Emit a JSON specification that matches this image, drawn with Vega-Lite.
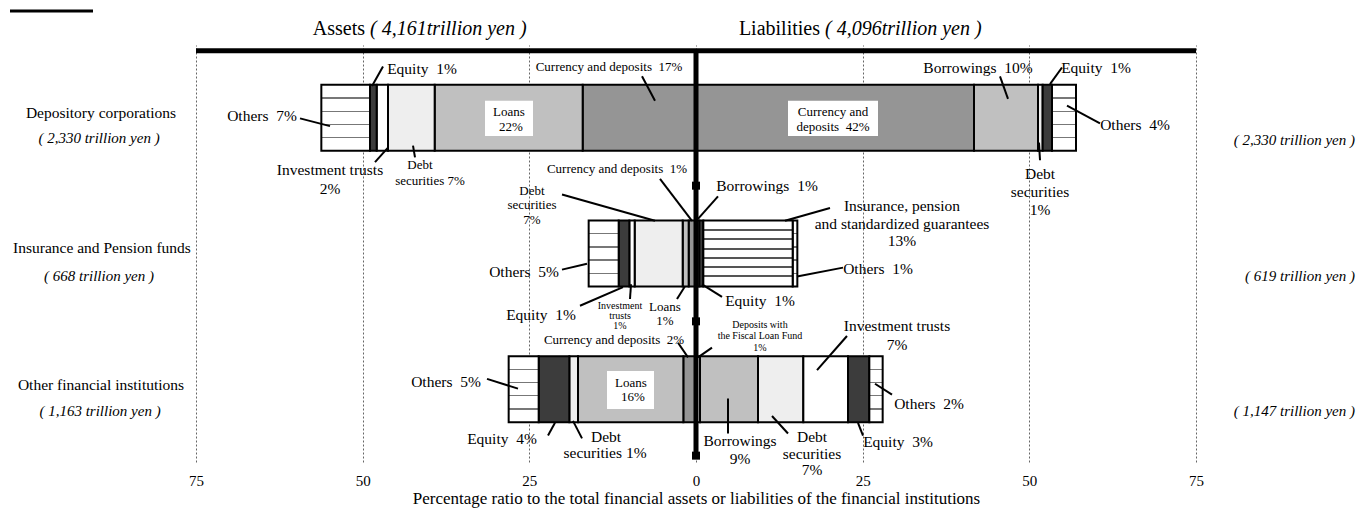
{
  "$schema": "https://vega.github.io/schema/vega-lite/v6.json",
  "width": 1000,
  "height": 417,
  "autosize": {"type": "none"},
  "padding": {"left": 196, "top": 45, "right": 162, "bottom": 48},
  "config": {"view": {"stroke": null}, "font": "Liberation Serif, Times New Roman, serif"},
  "datasets": {
    "bars": [
      {"y": 1, "item": "Currency and deposits", "pat": "cd", "ord": 1, "value": -17.0},
      {"y": 1, "item": "Loans", "pat": "loan", "ord": 2, "value": -22.2},
      {"y": 1, "item": "Debt securities", "pat": "debt", "ord": 3, "value": -7.0},
      {"y": 1, "item": "Investment trusts", "pat": "inv", "ord": 4, "value": -1.7},
      {"y": 1, "item": "Equity", "pat": "eq", "ord": 5, "value": -1.0},
      {"y": 1, "item": "Others", "pat": "oth", "ord": 6, "value": -7.3},
      {"y": 1, "item": "Currency and deposits", "pat": "cd", "ord": 1, "value": 41.7},
      {"y": 1, "item": "Borrowings", "pat": "loan", "ord": 2, "value": 9.6},
      {"y": 1, "item": "Debt securities", "pat": "debt", "ord": 3, "value": 0.7},
      {"y": 1, "item": "Equity", "pat": "eq", "ord": 4, "value": 1.4},
      {"y": 1, "item": "Others", "pat": "oth", "ord": 5, "value": 3.6},
      {"y": 2, "item": "Currency and deposits", "pat": "cd", "ord": 1, "value": -1.1},
      {"y": 2, "item": "Loans", "pat": "loan", "ord": 2, "value": -0.9},
      {"y": 2, "item": "Debt securities", "pat": "debt", "ord": 3, "value": -7.2},
      {"y": 2, "item": "Investment trusts", "pat": "inv", "ord": 4, "value": -0.8},
      {"y": 2, "item": "Equity", "pat": "eq", "ord": 5, "value": -1.6},
      {"y": 2, "item": "Others", "pat": "oth", "ord": 6, "value": -4.5},
      {"y": 2, "item": "Borrowings", "pat": "loan", "ord": 1, "value": 0.5},
      {"y": 2, "item": "Equity", "pat": "eq", "ord": 2, "value": 0.6},
      {"y": 2, "item": "Insurance, pension and standardized guarantees", "pat": "ins", "ord": 3, "value": 13.4},
      {"y": 2, "item": "Others", "pat": "oth", "ord": 4, "value": 0.7},
      {"y": 3, "item": "Currency and deposits", "pat": "cd", "ord": 1, "value": -1.9},
      {"y": 3, "item": "Loans", "pat": "loan", "ord": 2, "value": -15.8},
      {"y": 3, "item": "Debt securities", "pat": "debt", "ord": 3, "value": -1.3},
      {"y": 3, "item": "Equity", "pat": "eq", "ord": 4, "value": -4.6},
      {"y": 3, "item": "Others", "pat": "oth", "ord": 5, "value": -4.5},
      {"y": 3, "item": "Deposits with the Fiscal Loan Fund", "pat": "flf", "ord": 1, "value": 0.6},
      {"y": 3, "item": "Borrowings", "pat": "loan", "ord": 2, "value": 8.7},
      {"y": 3, "item": "Debt securities", "pat": "debt", "ord": 3, "value": 6.8},
      {"y": 3, "item": "Investment trusts", "pat": "inv", "ord": 4, "value": 6.7},
      {"y": 3, "item": "Equity", "pat": "eq", "ord": 5, "value": 3.2},
      {"y": 3, "item": "Others", "pat": "oth", "ord": 6, "value": 2.0}
    ],
    "boxes": [
      {"x": -31.65, "x2": -24.45, "y": 0.874, "y2": 1.133},
      {"x": 13.8, "x2": 27.3, "y": 0.874, "y2": 1.133},
      {"x": -13.35, "x2": -6.3, "y": 2.867, "y2": 3.147}
    ],
    "leaders": [
      {"x": -48.6, "y": 0.766, "x2": -46.95, "y2": 0.622},
      {"x": -59.4, "y": 1.004, "x2": -54.9, "y2": 1.061},
      {"x": -48.15, "y": 1.327, "x2": -46.2, "y2": 1.219},
      {"x": -42.15, "y": 1.291, "x2": -42.45, "y2": 1.205},
      {"x": -8.1, "y": 0.694, "x2": -6.15, "y2": 0.874},
      {"x": 45.6, "y": 0.694, "x2": 46.8, "y2": 0.86},
      {"x": 54.9, "y": 0.629, "x2": 53.1, "y2": 0.752},
      {"x": 60.6, "y": 1.04, "x2": 55.65, "y2": 0.91},
      {"x": 51.45, "y": 1.183, "x2": 51.6, "y2": 1.313},
      {"x": -5.4, "y": 1.45, "x2": -0.6, "y2": 1.759},
      {"x": -20.1, "y": 1.565, "x2": -6.15, "y2": 1.759},
      {"x": 3.3, "y": 1.579, "x2": 0.3, "y2": 1.745},
      {"x": 20.1, "y": 1.665, "x2": 13.35, "y2": 1.759},
      {"x": 22.05, "y": 2.104, "x2": 15.15, "y2": 2.169},
      {"x": 3.9, "y": 2.32, "x2": 0.9, "y2": 2.227},
      {"x": -20.1, "y": 2.119, "x2": -16.35, "y2": 2.076},
      {"x": -17.4, "y": 2.385, "x2": -10.95, "y2": 2.248},
      {"x": -9.9, "y": 2.335, "x2": -9.75, "y2": 2.227},
      {"x": -2.85, "y": 2.335, "x2": -1.65, "y2": 2.241},
      {"x": -2.7, "y": 2.658, "x2": -1.2, "y2": 2.766},
      {"x": 2.4, "y": 2.694, "x2": 0.3, "y2": 2.766},
      {"x": 22.65, "y": 2.608, "x2": 18.15, "y2": 2.86},
      {"x": 29.4, "y": 3.04, "x2": 26.85, "y2": 2.96},
      {"x": 25.05, "y": 3.342, "x2": 24.3, "y2": 3.248},
      {"x": 13.8, "y": 3.327, "x2": 11.4, "y2": 3.198},
      {"x": 4.8, "y": 3.068, "x2": 4.8, "y2": 3.327},
      {"x": -31.35, "y": 2.924, "x2": -26.7, "y2": 2.996},
      {"x": -22.2, "y": 3.342, "x2": -21.15, "y2": 3.248},
      {"x": -17.1, "y": 3.363, "x2": -18.45, "y2": 3.234}
    ],
    "hlines": [{"x": -75, "x2": 75, "y": 0.505}],
    "underline": [{"x": -102.9, "x2": -90.45, "y": 0.212}],
    "vline": [{"x": 0, "y": 0.5, "y2": 3.5}],
    "squares": [{"x": 0, "y": 1.5}, {"x": 0, "y": 2.5}, {"x": 0, "y": 3.49}],
    "lab15": [
      {"t": "Equity\u00a0 1%", "x": -41.1, "y": 0.637},
      {"t": "Others\u00a0 7%", "x": -65.1, "y": 0.989},
      {"t": "Investment trusts", "x": -54.9, "y": 1.385},
      {"t": "2%", "x": -54.9, "y": 1.522},
      {"t": "Borrowings\u00a0 10%", "x": 42.3, "y": 0.629},
      {"t": "Equity\u00a0 1%", "x": 60.0, "y": 0.629},
      {"t": "Others\u00a0 4%", "x": 65.85, "y": 1.054},
      {"t": "Debt", "x": 51.6, "y": 1.414},
      {"t": "securities", "x": 51.6, "y": 1.55},
      {"t": "1%", "x": 51.6, "y": 1.68},
      {"t": "Borrowings\u00a0 1%", "x": 10.65, "y": 1.5},
      {"t": "Insurance, pension", "x": 30.9, "y": 1.651},
      {"t": "and standardized guarantees", "x": 30.9, "y": 1.781},
      {"t": "13%", "x": 30.9, "y": 1.91},
      {"t": "Others\u00a0 1%", "x": 27.3, "y": 2.112},
      {"t": "Equity\u00a0 1%", "x": 9.6, "y": 2.349},
      {"t": "Others\u00a0 5%", "x": -25.8, "y": 2.133},
      {"t": "Equity\u00a0 1%", "x": -23.25, "y": 2.457},
      {"t": "Investment trusts", "x": 30.15, "y": 2.536},
      {"t": "7%", "x": 30.15, "y": 2.673},
      {"t": "Others\u00a0 2%", "x": 34.95, "y": 3.112},
      {"t": "Equity\u00a0 3%", "x": 30.3, "y": 3.392},
      {"t": "Debt", "x": 17.4, "y": 3.356},
      {"t": "securities", "x": 17.4, "y": 3.478},
      {"t": "7%", "x": 17.4, "y": 3.594},
      {"t": "Borrowings", "x": 6.6, "y": 3.385},
      {"t": "9%", "x": 6.6, "y": 3.514},
      {"t": "Others\u00a0 5%", "x": -37.5, "y": 2.946},
      {"t": "Equity\u00a0 4%", "x": -29.1, "y": 3.371},
      {"t": "Debt", "x": -13.5, "y": 3.349},
      {"t": "securities 1%", "x": -13.65, "y": 3.471}
    ],
    "lab13": [
      {"t": "Currency and deposits\u00a0 17%", "x": -13.05, "y": 0.622},
      {"t": "Loans", "x": -28.05, "y": 0.96},
      {"t": "22%", "x": -27.75, "y": 1.068},
      {"t": "Currency and", "x": 20.55, "y": 0.96},
      {"t": "deposits\u00a0 42%", "x": 20.55, "y": 1.068},
      {"t": "Debt", "x": -41.4, "y": 1.349},
      {"t": "securities 7%", "x": -39.9, "y": 1.464},
      {"t": "Currency and deposits\u00a0 1%", "x": -11.85, "y": 1.378},
      {"t": "Debt", "x": -24.6, "y": 1.536},
      {"t": "securities", "x": -24.6, "y": 1.644},
      {"t": "7%", "x": -24.6, "y": 1.752},
      {"t": "Loans", "x": -4.65, "y": 2.392},
      {"t": "1%", "x": -4.65, "y": 2.5},
      {"t": "Currency and deposits\u00a0 2%", "x": -12.3, "y": 2.637},
      {"t": "Loans", "x": -9.75, "y": 2.953},
      {"t": "16%", "x": -9.45, "y": 3.061}
    ],
    "lab10": [
      {"t": "Investment", "x": -11.4, "y": 2.385},
      {"t": "trusts", "x": -11.4, "y": 2.464},
      {"t": "1%", "x": -11.4, "y": 2.536},
      {"t": "Deposits with", "x": 9.6, "y": 2.529},
      {"t": "the Fiscal Loan Fund", "x": 9.6, "y": 2.608},
      {"t": "1%", "x": 9.6, "y": 2.694}
    ],
    "rowname": [
      {"t": "Depository corporations", "x": -89.25, "y": 0.968},
      {"t": "Insurance and Pension funds", "x": -89.1, "y": 1.96},
      {"t": "Other financial institutions", "x": -89.25, "y": 2.968}
    ],
    "rowsub": [
      {"t": "( 2,330 trillion yen )", "x": -89.55, "y": 1.147},
      {"t": "( 668 trillion yen )", "x": -89.55, "y": 2.169},
      {"t": "( 1,163 trillion yen )", "x": -89.4, "y": 3.162}
    ],
    "rowsubR": [
      {"t": "( 2,330 trillion yen )", "x": 98.85, "y": 1.162},
      {"t": "( 619 trillion yen )", "x": 98.85, "y": 2.169},
      {"t": "( 1,147 trillion yen )", "x": 98.85, "y": 3.162}
    ],
    "head": [
      {"t": "Assets", "x": -49.65, "y": 0.342},
      {"t": "Liabilities", "x": 18.6, "y": 0.342}
    ],
    "headIt": [
      {"t": "( 4,161trillion yen )", "x": -48.9, "y": 0.342},
      {"t": "( 4,096trillion yen )", "x": 19.35, "y": 0.342}
    ]
  },
  "encoding": {
    "x": {
      "field": "x", "type": "quantitative",
      "scale": {"domain": [-75, 75], "nice": false, "zero": false},
      "axis": {
        "values": [-75, -50, -25, 0, 25, 50, 75],
        "labelExpr": "'' + abs(datum.value)",
        "labelFlush": false, "labelOverlap": false,
        "grid": true, "gridDash": [2, 2], "gridColor": "#666666", "gridWidth": 1,
        "domain": false, "ticks": false,
        "labelFont": "Liberation Serif, Times New Roman, serif", "labelFontSize": 15, "labelColor": "black", "labelPadding": 11,
        "title": "Percentage ratio to the total financial assets or liabilities of the financial institutions",
        "titleFont": "Liberation Serif, Times New Roman, serif", "titleFontSize": 17, "titleFontWeight": "normal", "titleColor": "black", "titlePadding": 2
      }
    },
    "y": {
      "field": "y", "type": "quantitative",
      "scale": {"domain": [0.5, 3.5], "reverse": true, "nice": false, "zero": false},
      "axis": null
    }
  },
  "layer": [
    {
      "data": {"name": "bars"},
      "transform": [
        {"stack": "value", "groupby": ["y"], "sort": [{"field": "ord", "order": "ascending"}], "as": ["x", "x2"], "offset": "zero"}
      ],
      "layer": [
        {
          "transform": [{"filter": "datum.pat !== 'oth' && datum.pat !== 'ins'"}],
          "mark": {"type": "bar", "orient": "horizontal", "size": 66, "stroke": "black", "strokeWidth": 2},
          "encoding": {
            "x2": {"field": "x2"},
            "fill": {"field": "pat", "type": "nominal", "legend": null,
              "scale": {"domain": ["cd", "loan", "debt", "inv", "eq", "flf"], "range": ["#959595", "#c0c0c0", "#eeeeee", "#ffffff", "#3c3c3c", "#f4f4f4"]}}
          }
        },
        {
          "transform": [{"filter": "datum.pat === 'oth'"}],
          "mark": {"type": "bar", "orient": "horizontal", "size": 66, "stroke": "black", "strokeWidth": 2,
            "fill": {"gradient": "linear", "x1": 0, "y1": 0, "x2": 0, "y2": 1, "stops": [
              {"offset": 0, "color": "#ffffff"}, {"offset": 0.19, "color": "#ffffff"},
              {"offset": 0.19, "color": "#777777"}, {"offset": 0.21, "color": "#777777"},
              {"offset": 0.21, "color": "#ffffff"}, {"offset": 0.39, "color": "#ffffff"},
              {"offset": 0.39, "color": "#777777"}, {"offset": 0.41, "color": "#777777"},
              {"offset": 0.41, "color": "#ffffff"}, {"offset": 0.59, "color": "#ffffff"},
              {"offset": 0.59, "color": "#777777"}, {"offset": 0.61, "color": "#777777"},
              {"offset": 0.61, "color": "#ffffff"}, {"offset": 0.79, "color": "#ffffff"},
              {"offset": 0.79, "color": "#777777"}, {"offset": 0.81, "color": "#777777"},
              {"offset": 0.81, "color": "#ffffff"}, {"offset": 1, "color": "#ffffff"}
            ]}},
          "encoding": {"x2": {"field": "x2"}}
        },
        {
          "transform": [{"filter": "datum.pat === 'ins'"}],
          "mark": {"type": "bar", "orient": "horizontal", "size": 66, "stroke": "black", "strokeWidth": 2,
            "fill": {"gradient": "linear", "x1": 0, "y1": 0, "x2": 0, "y2": 1, "stops": [
              {"offset": 0, "color": "#ffffff"}, {"offset": 0.13, "color": "#ffffff"},
              {"offset": 0.13, "color": "#555555"}, {"offset": 0.16, "color": "#555555"},
              {"offset": 0.16, "color": "#ffffff"}, {"offset": 0.27, "color": "#ffffff"},
              {"offset": 0.27, "color": "#555555"}, {"offset": 0.3, "color": "#555555"},
              {"offset": 0.3, "color": "#ffffff"}, {"offset": 0.41, "color": "#ffffff"},
              {"offset": 0.41, "color": "#555555"}, {"offset": 0.44, "color": "#555555"},
              {"offset": 0.44, "color": "#ffffff"}, {"offset": 0.55, "color": "#ffffff"},
              {"offset": 0.55, "color": "#555555"}, {"offset": 0.58, "color": "#555555"},
              {"offset": 0.58, "color": "#ffffff"}, {"offset": 0.69, "color": "#ffffff"},
              {"offset": 0.69, "color": "#555555"}, {"offset": 0.72, "color": "#555555"},
              {"offset": 0.72, "color": "#ffffff"}, {"offset": 0.83, "color": "#ffffff"},
              {"offset": 0.83, "color": "#555555"}, {"offset": 0.86, "color": "#555555"},
              {"offset": 0.86, "color": "#ffffff"}, {"offset": 1, "color": "#ffffff"}
            ]}},
          "encoding": {"x2": {"field": "x2"}}
        }
      ]
    },
    {
      "data": {"name": "boxes"},
      "mark": {"type": "rect", "fill": "white", "strokeWidth": 0},
      "encoding": {"x2": {"field": "x2"}, "y2": {"field": "y2"}}
    },
    {
      "data": {"name": "leaders"},
      "mark": {"type": "rule", "color": "black", "strokeWidth": 2},
      "encoding": {"x2": {"field": "x2"}, "y2": {"field": "y2"}}
    },
    {
      "data": {"name": "hlines"},
      "mark": {"type": "rule", "color": "black", "strokeWidth": 5},
      "encoding": {"x2": {"field": "x2"}}
    },
    {
      "data": {"name": "underline"},
      "mark": {"type": "rule", "color": "black", "strokeWidth": 3},
      "encoding": {"x2": {"field": "x2"}}
    },
    {
      "data": {"name": "vline"},
      "mark": {"type": "rule", "color": "black", "strokeWidth": 5},
      "encoding": {"y2": {"field": "y2"}}
    },
    {
      "data": {"name": "squares"},
      "mark": {"type": "point", "shape": "square", "filled": true, "color": "black", "size": 64, "opacity": 1},
      "encoding": {}
    },
    {
      "data": {"name": "lab15"},
      "mark": {"type": "text", "font": "Liberation Serif, Times New Roman, serif", "fontSize": 15.5, "align": "center", "baseline": "middle", "color": "black"},
      "encoding": {"text": {"field": "t"}}
    },
    {
      "data": {"name": "lab13"},
      "mark": {"type": "text", "font": "Liberation Serif, Times New Roman, serif", "fontSize": 13, "align": "center", "baseline": "middle", "color": "black"},
      "encoding": {"text": {"field": "t"}}
    },
    {
      "data": {"name": "lab10"},
      "mark": {"type": "text", "font": "Liberation Serif, Times New Roman, serif", "fontSize": 10, "align": "center", "baseline": "middle", "color": "black"},
      "encoding": {"text": {"field": "t"}}
    },
    {
      "data": {"name": "rowname"},
      "mark": {"type": "text", "font": "Liberation Serif, Times New Roman, serif", "fontSize": 15.5, "align": "center", "baseline": "middle", "color": "black"},
      "encoding": {"text": {"field": "t"}}
    },
    {
      "data": {"name": "rowsub"},
      "mark": {"type": "text", "font": "Liberation Serif, Times New Roman, serif", "fontSize": 15, "fontStyle": "italic", "align": "center", "baseline": "middle", "color": "black"},
      "encoding": {"text": {"field": "t"}}
    },
    {
      "data": {"name": "rowsubR"},
      "mark": {"type": "text", "font": "Liberation Serif, Times New Roman, serif", "fontSize": 15, "fontStyle": "italic", "align": "right", "baseline": "middle", "color": "black"},
      "encoding": {"text": {"field": "t"}}
    },
    {
      "data": {"name": "head"},
      "mark": {"type": "text", "font": "Liberation Serif, Times New Roman, serif", "fontSize": 20, "align": "right", "baseline": "middle", "color": "black"},
      "encoding": {"text": {"field": "t"}}
    },
    {
      "data": {"name": "headIt"},
      "mark": {"type": "text", "font": "Liberation Serif, Times New Roman, serif", "fontSize": 20, "fontStyle": "italic", "align": "left", "baseline": "middle", "color": "black"},
      "encoding": {"text": {"field": "t"}}
    }
  ]
}
